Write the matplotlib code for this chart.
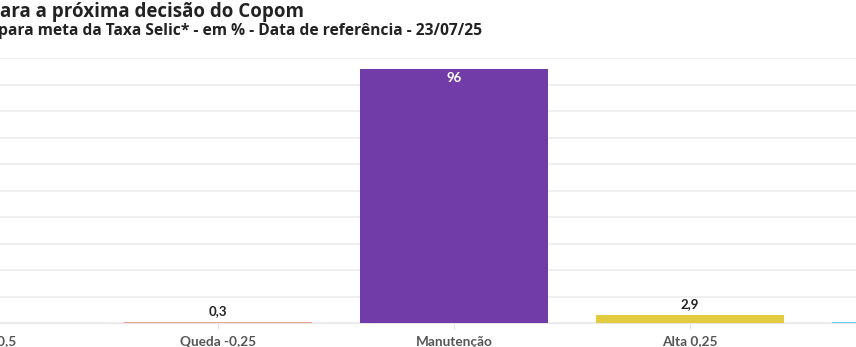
import matplotlib
matplotlib.use("Agg")
import matplotlib.pyplot as plt

categories = ["Queda -0,5", "Queda -0,25", "Manutenção", "Alta 0,25", "Alta 0,5"]
values = [0.0, 0.3, 96.0, 2.9, 0.3]
value_labels = ["0", "0,3", "96", "2,9", "0,3"]
colors = ["#e8534a", "#f4a08a", "#723ca8", "#e2cb3f", "#5fcdf0"]
yticks = list(range(0, 101, 10))

plt.rcParams['font.family'] = ['Lato', 'DejaVu Sans']

W, H = 856, 347
fig = plt.figure(figsize=(W / 100, H / 100), dpi=100)

# axes in pixel coords: category i centre at -18 + 236*i, xlim (-0.5, 4.5)
left_px = -18 - 236 * 0.5
right_px = -18 + 236 * 4.5
base_px = 323
top_px = 58.4
ax = fig.add_axes([left_px / W, (H - base_px) / H, (right_px - left_px) / W, (base_px - top_px) / H])

x = list(range(len(categories)))
ax.bar(x, values, width=0.8, color=colors, zorder=3)
ax.set_xlim(-0.5, 4.5)
ax.set_ylim(0, 100)
ax.set_yticks(yticks)
ax.yaxis.grid(True, color="#ececec", linewidth=1.2, zorder=0)
ax.tick_params(axis="y", left=False, labelleft=False)
ax.set_xticks(x)
ax.set_xticklabels(categories, fontsize=9.8, fontweight="bold", color="#555555")
ax.tick_params(axis="x", length=4, color="#e6e6e6", pad=5)
for s in ["top", "right", "left"]:
    ax.spines[s].set_visible(False)
ax.spines["bottom"].set_color("#e6e6e6")

for xi, v, lab in zip(x, values, value_labels):
    if v == 0:
        continue
    if v > 50:
        ax.text(xi, v - 1.2, lab, ha="center", va="top", fontsize=9.5, fontweight="bold", color="white", zorder=4)
    else:
        ax.text(xi, v + 2.0, lab, ha="center", va="bottom", fontsize=9.5, fontweight="bold", color="#222222", zorder=4)

fig.text(0.0, 1 - 17 / H, "ara a próxima decisão do Copom", ha="left", va="baseline",
         fontsize=13.5, fontweight="bold", color="#222222", family=["Open Sans", "DejaVu Sans"])
fig.text(-2 / W, 1 - 35 / H, "para meta da Taxa Selic* - em % - Data de referência - 23/07/25", ha="left", va="baseline",
         fontsize=11.25, fontweight="bold", color="#222222", family=["Open Sans", "DejaVu Sans"])

fig.savefig("out.png", dpi=100, facecolor="white")
